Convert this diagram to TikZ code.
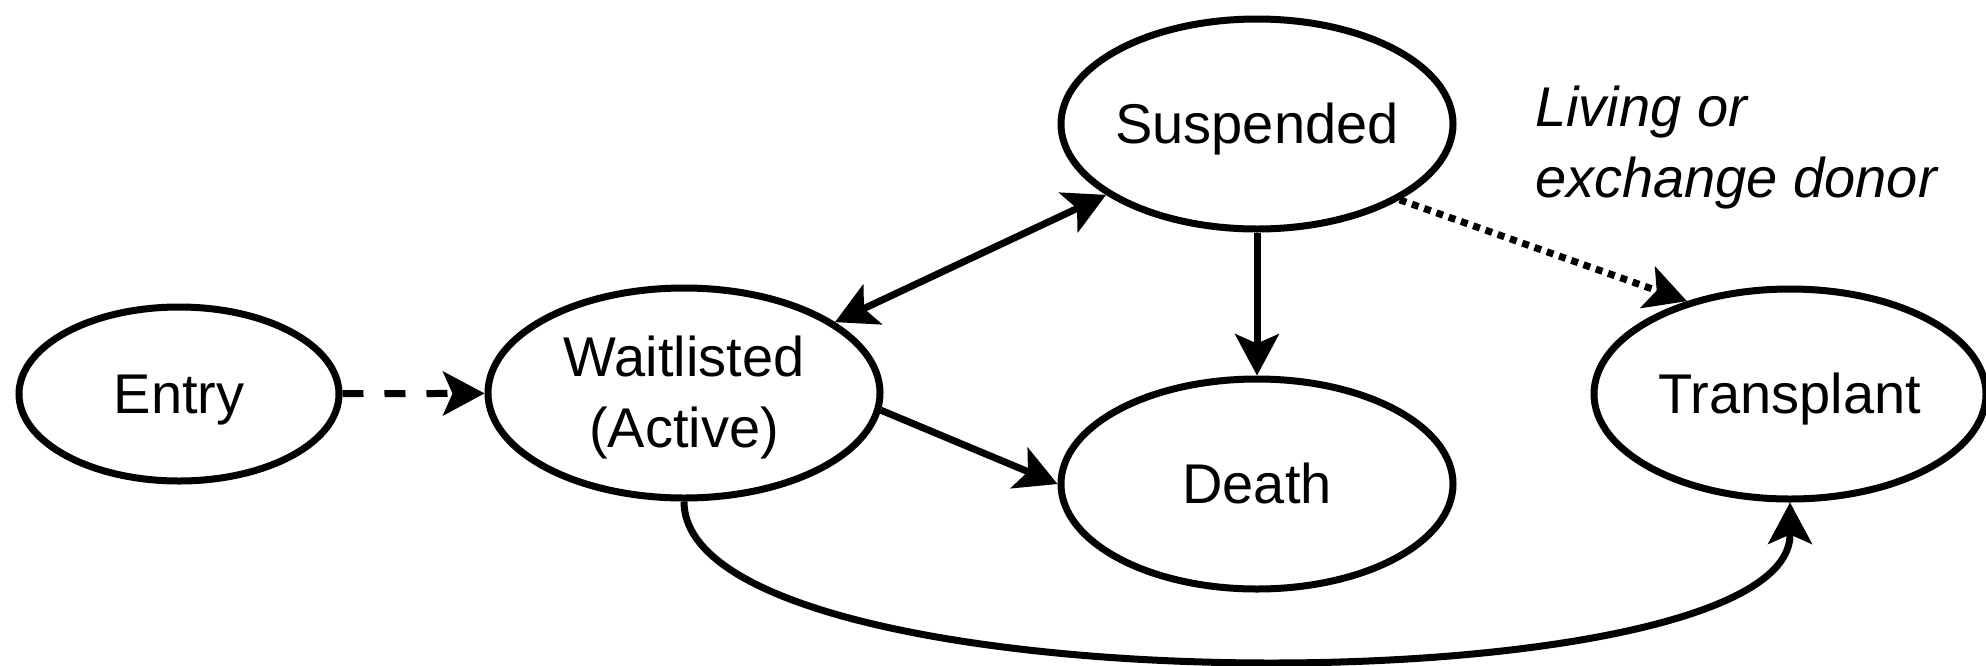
\documentclass[tikz,border=0pt]{standalone}
\usepackage{fontspec}
\setmainfont{Liberation Sans}
\usetikzlibrary{shapes.geometric,arrows.meta}

% invisible strut giving each line the ascent/descent of the sans font
\newcommand\lnstrut{\rule[-0.212em]{0pt}{1.117em}}

\tikzset{
  state/.style={ellipse, draw, line width=7pt, minimum width=392pt,
    minimum height=210pt, inner xsep=-20pt, inner ysep=0pt, align=center,
    font=\fontsize{56}{71}\selectfont},
  smallstate/.style={state, minimum width=320pt, minimum height=174pt},
  link/.style={line width=7pt},
  >={Stealth[length=42pt,width=45pt,inset=10pt,line width=0pt]},
  longdash/.style={dash pattern=on 21pt off 21pt},
  finedot/.style={dash pattern=on 7pt off 6pt},
}

\begin{document}
\begin{tikzpicture}[x=1pt,y=-1pt]
  \useasboundingbox (0,0) rectangle (1986,665);
  \clip (0,0) rectangle (1986,665);

  % states
  \node[smallstate] (entry) at (179,394) {\lnstrut Entry};
  \node[state] (wl)    at (684,393)  {\lnstrut Waitlisted\\\lnstrut (Active)};
  \node[state] (sus)   at (1257,124) {\lnstrut Suspended};
  \node[state] (death) at (1257,484) {\lnstrut Death};
  \node[state] (tp)    at (1790,394) {\lnstrut Transplant};

  % annotation of the dotted transition
  \node[anchor=west, inner sep=0pt, align=left,
        font=\itshape\fontsize{56}{71}\selectfont] (note) at (1535,143)
        {\lnstrut Living or\\\lnstrut exchange donor};

  % transitions
  \draw[link, longdash, ->] (entry) -- (wl);
  \draw[link, <->] (wl) -- (sus);
  \draw[link, ->] (wl.-5.5) -- (death.west);
  \draw[link, ->] (sus.south) -- (death.north);
  \draw[link, finedot, ->] (sus.-28) -- (tp.138);
  \draw[link, ->] (wl.south) .. controls +(0,210) and +(0,208) .. (tp.south);
\end{tikzpicture}
\end{document}
